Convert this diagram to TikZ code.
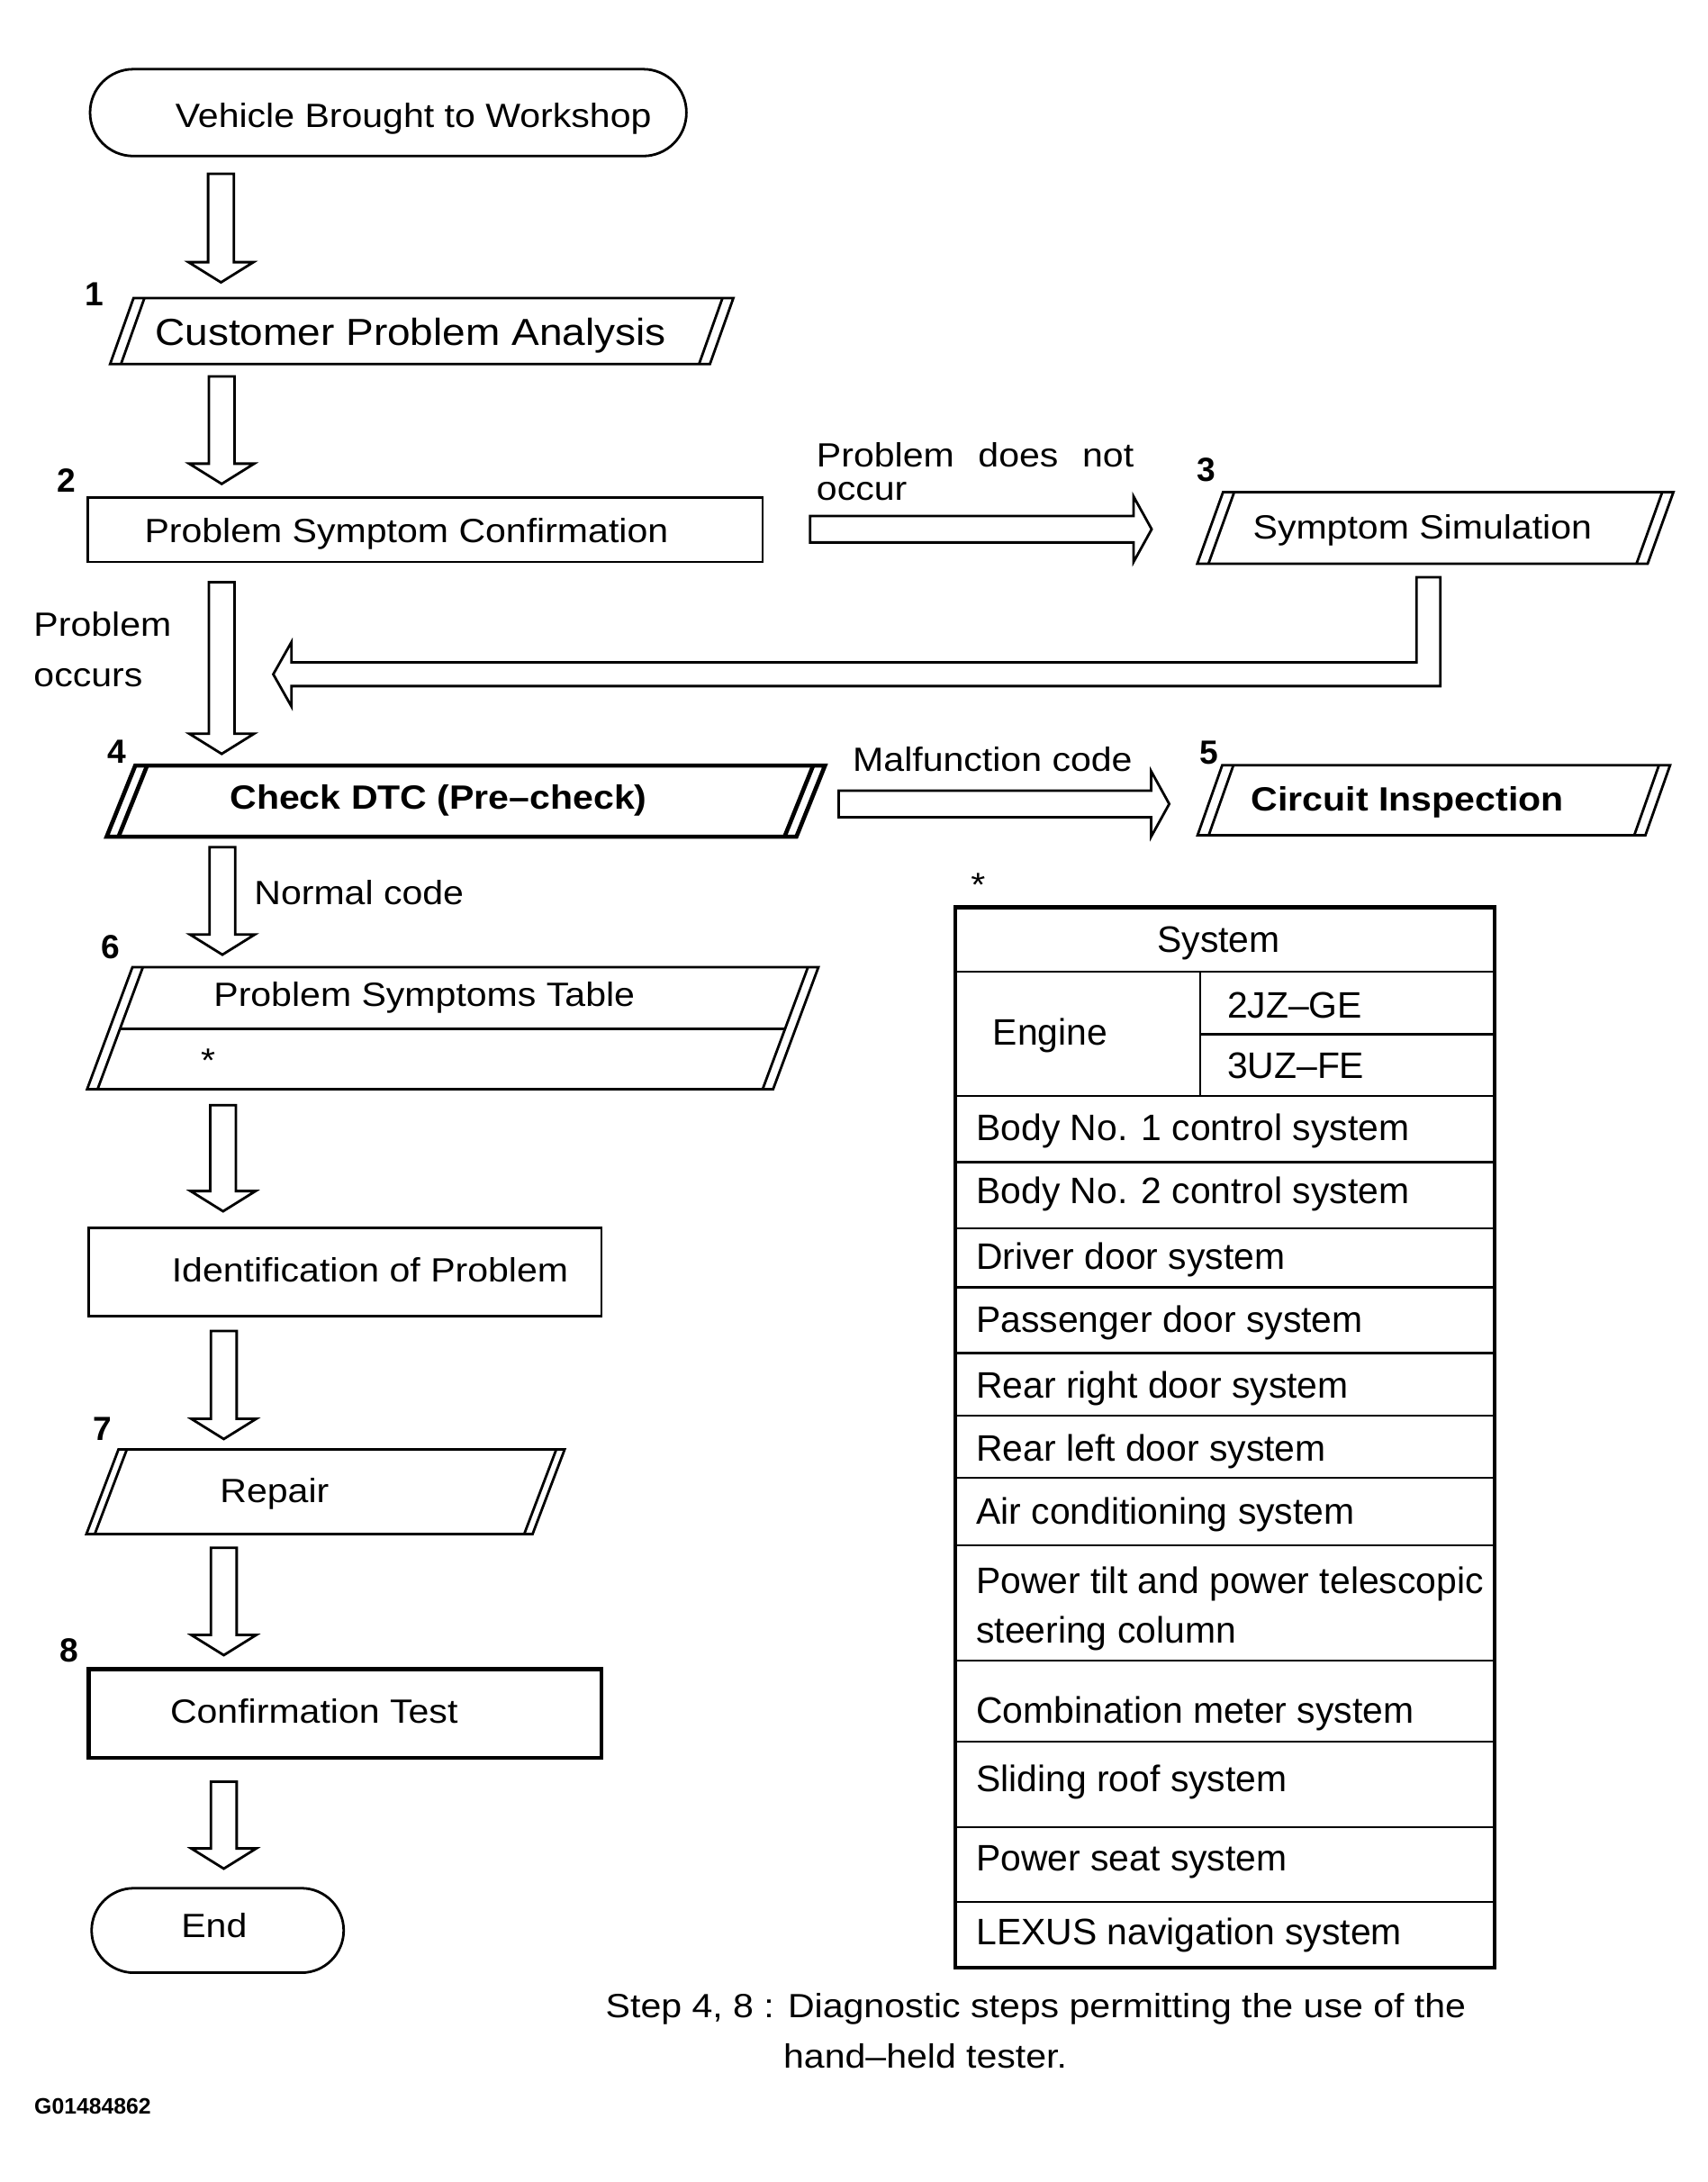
\documentclass[tikz,border=0pt]{standalone}
\usepackage{fontspec}
\setmainfont{Liberation Sans}
\newfontfamily\wf{Liberation Sans}[FakeStretch=1.1]
\usetikzlibrary{calc}
\tikzset{
  ln/.style={line width=1.8pt},
  heavy/.style={line width=3pt},
  tln/.style={line width=1.5pt},
  blk/.style={draw, line width=1.8pt, fill=white, line join=miter},
  lbl/.style={font=\fontsize{24.1}{29}\selectfont\wf, inner sep=0pt, anchor=base},
  big/.style={font=\fontsize{27}{33}\selectfont\wf, inner sep=0pt, anchor=base},
  bld/.style={font=\fontsize{24.1}{29}\selectfont\wf\bfseries, inner sep=0pt, anchor=base},
  num/.style={font=\fontsize{24}{28}\selectfont\bfseries, inner sep=0pt, anchor=base},
  cell/.style={font=\fontsize{26.4}{32}\selectfont, inner sep=0pt, anchor=base west},
  codelbl/.style={font=\fontsize{16}{19}\selectfont\bfseries, inner sep=0pt, anchor=base west}
}
% parallelogram: style, x top-left, y top, x top-right, y bottom, slant, inner offset
\newcommand\paral[7]{%
  \draw[#1] ({#2-#6},#5) -- (#2,#3) -- (#4,#3) -- ({#4-#6},#5) -- cycle;
  \draw[#1] ({#2-#6+#7},#5) -- ({#2+#7},#3);
  \draw[#1] ({#4-#7},#3) -- ({#4-#6-#7},#5);
}
\newcommand\downblock[2]{%
  \draw[blk] ($(#1)+(-9.25,0)$) -- ($(#2)+(-9.25,-14.5)$) -- ($(#2)+(-23.3,-14.5)$) -- (#2)
    -- ($(#2)+(23.3,-14.5)$) -- ($(#2)+(9.25,-14.5)$) -- ($(#1)+(9.25,0)$) -- cycle;}
\newcommand\rightblock[2]{%
  \draw[blk] ($(#1)+(0,-9.5)$) -- ($(#2)+(-13,-9.5)$) -- ($(#2)+(-13,-23.5)$) -- (#2)
    -- ($(#2)+(-13,23.5)$) -- ($(#2)+(-13,9.5)$) -- ($(#1)+(0,9.5)$) -- cycle;}
\begin{document}
\begin{tikzpicture}[x=1pt,y=-1pt]
\useasboundingbox[fill=white] (0,0) rectangle (1225,1564.7);

% ---------- shapes ----------
\draw[ln,rounded corners=31] (64.6,49.6) rectangle (492.3,111.9);
\paral{ln}{95.8}{213.7}{526}{261}{16.8}{7.8}
\draw[ln] (62.9,356.7) rectangle (547,403);
\paral{ln}{877.2}{352.9}{1200.2}{404.3}{18.5}{8}
\paral{heavy}{97}{549}{591.7}{600}{20.5}{8.5}
\paral{ln}{876.6}{548.8}{1197.8}{599}{17.7}{8}
\paral{ln}{95}{693.5}{587}{781}{32.5}{7.5}
\draw[ln] (86.1,737.6) -- (563.1,737.6);
\draw[ln] (63.8,880.6) rectangle (431.4,943.6);
\paral{ln}{85}{1039.3}{405}{1100}{23}{6}
\draw[heavy] (63.8,1196.9) rectangle (431.4,1260.6);
\draw[ln,rounded corners=30.3] (65.7,1354) rectangle (246.5,1414.6);

% ---------- texts ----------
\node[lbl] (t0) at (296.5,91.7) {Vehicle Brought to Workshop};
\node[num] (n1) at (68,219) {1};
\node[big] (t1) at (294.5,247.5) {Customer Problem Analysis};
\node[num] (n2) at (47.5,353) {2};
\node[lbl] (t2) at (291.5,389.2) {Problem Symptom Confirmation};
\node[lbl,anchor=base west] (l1) at (585.5,335) {\makebox[227.5pt][s]{Problem does not}};
\node[lbl,anchor=base west] (l2) at (585.5,358.5) {occur};
\node[num] (n3) at (865,345) {3};
\node[lbl] (t3) at (1020.2,386.3) {Symptom Simulation};
\node[lbl,anchor=base west] (l3) at (24,456.3) {Problem};
\node[lbl,anchor=base west] (l4) at (24,492.5) {occurs};
\node[num] (n4) at (83.6,547.6) {4};
\node[bld] (t4) at (314.5,580.2) {Check DTC (Pre–check)};
\node[lbl] (l5) at (711.9,553) {Malfunction code};
\node[num] (n5) at (867,548.2) {5};
\node[bld] (t5) at (1009.5,581.5) {Circuit Inspection};
\node[lbl] (ast1) at (701.5,642.7) {*};
\node[lbl] (l6) at (257.5,648.5) {Normal code};
\node[num] (n6) at (79,687.5) {6};
\node[lbl] (t6) at (304.3,721.6) {Problem Symptoms Table};
\node[lbl] (ast2) at (149.3,769) {*};
\node[lbl] (t7) at (265.4,919.3) {Identification of Problem};
\node[num] (n7) at (73.7,1032.7) {7};
\node[lbl] (t8) at (196.9,1077.5) {Repair};
\node[num] (n8) at (49.3,1192) {8};
\node[lbl] (t9) at (225.2,1235.6) {Confirmation Test};
\node[lbl] (t10) at (153.6,1389.4) {End};
\node[codelbl] (code) at (24.5,1516) {G01484862};
\node[lbl] (f1) at (742.9,1446.7) {Step 4, 8 : Diagnostic steps permitting the use of the};
\node[lbl,anchor=base west] (f2) at (561.7,1483) {hand–held tester.};

% ---------- connectors (block arrows) ----------
\coordinate (a1s) at (158.5,124.6);  \coordinate (a1e) at (158.5,202.5);
\coordinate (a2s) at (159,270);      \coordinate (a2e) at (159,347);
\coordinate (a3s) at (159,417.5);    \coordinate (a3e) at (159,540.6);
\coordinate (a4s) at (159.5,607.5);  \coordinate (a4e) at (159.5,684.6);
\coordinate (a5s) at (160,792.5);    \coordinate (a5e) at (160,868.6);
\coordinate (a6s) at (160.5,954.4);  \coordinate (a6e) at (160.5,1031.9);
\coordinate (a7s) at (160.5,1109.9); \coordinate (a7e) at (160.5,1186.9);
\coordinate (a8s) at (160.5,1277.6); \coordinate (a8e) at (160.5,1340);
\downblock{a1s}{a1e}
\downblock{a2s}{a2e}
\downblock{a3s}{a3e}
\downblock{a4s}{a4e}
\downblock{a5s}{a5e}
\downblock{a6s}{a6e}
\downblock{a7s}{a7e}
\downblock{a8s}{a8e}
\coordinate (r1s) at (581,379.5);   \coordinate (r1e) at (826,379.5);
\coordinate (r2s) at (601.5,576.5); \coordinate (r2e) at (838.6,576.5);
\rightblock{r1s}{r1e}
\rightblock{r2s}{r2e}
\coordinate (rs) at (1024.5,414);
\coordinate (rt) at (196,483.5);
\draw[blk] ($(rs)+(8.5,0)$) |- ($(rt)+(13,8.5)$) -- ($(rt)+(13,23)$) -- (rt)
  -- ($(rt)+(13,-23)$) -- ($(rt)+(13,-8.5)$) -| ($(rs)+(-8.5,0)$) -- cycle;

% ---------- table ----------
\foreach \yy in {696.8,785.8,833.4,881,923.2,970.2,1015,1059.7,1108,1190.8,1249,1310.3,1364}
  \draw[tln] (685,\yy) -- (1072,\yy);
\draw[tln] (861,696.8) -- (861,785.8);
\draw[tln] (861,741.6) -- (1072,741.6);
\draw[line width=2.8pt] (685,650.5) rectangle (1072,1410.8);
\node[cell,anchor=base] (c0) at (874,683.2) {System};
\node[cell] (c1) at (712,749.5) {Engine};
\node[cell] (c2) at (880,730) {2JZ–GE};
\node[cell] (c3) at (880,773.5) {3UZ–FE};
\node[cell] (c4) at (700,818) {Body No. 1 control system};
\node[cell] (c5) at (700,863.2) {Body No. 2 control system};
\node[cell] (c6) at (700,910.2) {Driver door system};
\node[cell] (c7) at (700,955.5) {Passenger door system};
\node[cell] (c8) at (700,1002.5) {Rear right door system};
\node[cell] (c9) at (700,1047.5) {Rear left door system};
\node[cell] (c10) at (700,1092.7) {Air conditioning system};
\node[cell] (c11) at (700,1142.5) {Power tilt and power telescopic};
\node[cell] (c12) at (700,1178.3) {steering column};
\node[cell] (c13) at (700,1235.5) {Combination meter system};
\node[cell] (c14) at (700,1284.5) {Sliding roof system};
\node[cell] (c15) at (700,1341.5) {Power seat system};
\node[cell] (c16) at (700,1394.5) {LEXUS navigation system};
\end{tikzpicture}
\end{document}
